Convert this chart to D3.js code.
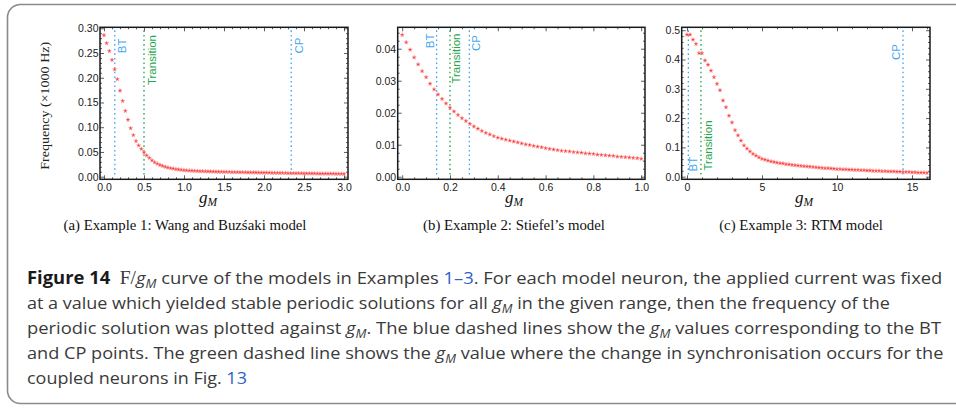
<!DOCTYPE html>
<html>
<head>
<meta charset="utf-8">
<script src="https://cdn.jsdelivr.net/npm/d3@7"></script>
<style>
  body { margin: 0; background: #fff; }
  .tick text { font-family: "Liberation Sans", Arial, sans-serif; font-size: 10.5px; fill: #222; }
</style>
</head>
<body>
<svg id="fig" width="956" height="409"></svg>
<script>
// ---------- Example 1: Wang and Buzsaki model (gM sampled every 1/30) ----------
const gmA = d3.range(91).map(i => i / 30);
const freqA = [
  0.286, 0.270, 0.254, 0.236, 0.217, 0.197, 0.174, 0.153, 0.133, 0.115,
  0.098, 0.084, 0.072, 0.063, 0.056, 0.049, 0.043, 0.038, 0.033, 0.029,
  0.026, 0.0235, 0.0215, 0.0198, 0.0184, 0.0172, 0.0162, 0.0153, 0.0144, 0.0137,
  0.0131, 0.0127, 0.0123, 0.0120, 0.0117, 0.0114, 0.0112, 0.0110, 0.0108, 0.0106,
  0.0104, 0.0102, 0.0101, 0.0099, 0.0098, 0.0096, 0.0095, 0.0094, 0.0093, 0.0092,
  0.0091, 0.0090, 0.0089, 0.0088, 0.0087, 0.0086, 0.0085, 0.0084, 0.0083, 0.0082,
  0.0081, 0.0080, 0.0079, 0.0078, 0.0077, 0.0076, 0.0075, 0.0074, 0.0073, 0.0072,
  0.0071, 0.0070, 0.0069, 0.0069, 0.0068, 0.0067, 0.0066, 0.0065, 0.0065, 0.0064,
  0.0063, 0.0062, 0.0062, 0.0061, 0.0060, 0.0060, 0.0059, 0.0058, 0.0058, 0.0057,
  0.0056
];
const xTicksA = [0, 0.5, 1, 1.5, 2, 2.5, 3];
const yTicksA = [0, 0.05, 0.10, 0.15, 0.20, 0.25, 0.30];
const marksA = [
  { name: "BT", gm: 0.135, kind: "bif" },
  { name: "Transition", gm: 0.5, kind: "sync" },
  { name: "CP", gm: 2.34, kind: "bif" }
];

// ---------- Example 2: Stiefel's model (gM sampled every 1/60) ----------
const gmB = d3.range(61).map(i => i / 60);
const freqB = [
  0.0443, 0.0420, 0.0397, 0.0373, 0.0351, 0.0330, 0.0311, 0.0291, 0.0273, 0.0257,
  0.0243, 0.0229, 0.0216, 0.0204, 0.0193, 0.0183, 0.0174, 0.0165, 0.0157, 0.0150,
  0.0143, 0.0137, 0.0132, 0.0127, 0.0122, 0.0119, 0.0116, 0.0113, 0.0110, 0.0107,
  0.0104, 0.0101, 0.0099, 0.0096, 0.0094, 0.0092, 0.0089, 0.0087, 0.0085, 0.0083,
  0.0081, 0.0080, 0.0079, 0.0077, 0.0076, 0.0075, 0.0073, 0.0072, 0.0071, 0.0069,
  0.0068, 0.0067, 0.0066, 0.0065, 0.0063, 0.0062, 0.0061, 0.0060, 0.0059, 0.0058,
  0.0056
];
const xTicksB = [0, 0.2, 0.4, 0.6, 0.8, 1.0];
const yTicksB = [0, 0.01, 0.02, 0.03, 0.04];
const marksB = [
  { name: "BT", gm: 0.144, kind: "bif" },
  { name: "Transition", gm: 0.2, kind: "sync" },
  { name: "CP", gm: 0.281, kind: "bif" }
];

// ---------- Example 3: RTM model (gM sampled every 0.2) ----------
const gmC = d3.range(81).map(i => i * 0.2);
const freqC = [
  0.485, 0.485, 0.468, 0.453, 0.422, 0.422, 0.397, 0.382, 0.362, 0.340,
  0.317, 0.295, 0.260, 0.237, 0.208, 0.185, 0.159, 0.141, 0.123, 0.107,
  0.096, 0.086, 0.078, 0.072, 0.066, 0.061, 0.058, 0.055, 0.052, 0.050,
  0.048, 0.046, 0.045, 0.043, 0.042, 0.040, 0.039, 0.038, 0.037, 0.036,
  0.035, 0.034, 0.033, 0.032, 0.031, 0.030, 0.029, 0.029, 0.028, 0.027,
  0.026, 0.026, 0.025, 0.025, 0.024, 0.024, 0.023, 0.023, 0.022, 0.022,
  0.021, 0.021, 0.020, 0.020, 0.020, 0.019, 0.019, 0.018, 0.018, 0.018,
  0.017, 0.017, 0.016, 0.016, 0.016, 0.015, 0.015, 0.014, 0.014, 0.014,
  0.013
];
const xTicksC = [0, 5, 10, 15];
const yTicksC = [0, 0.1, 0.2, 0.3, 0.4, 0.5];
const marksC = [
  { name: "BT", gm: 0.09, kind: "bif" },
  { name: "Transition", gm: 0.93, kind: "sync" },
  { name: "CP", gm: 14.4, kind: "bif" }
];

const subCaptions = [
  "(a) Example 1: Wang and Buzśaki model",
  "(b) Example 2: Stiefel’s model",
  "(c) Example 3: RTM model"
];

// ---------- styling / layout ----------
const BLUE = "#43a6f0", GREEN = "#1fa84e", RED = "#f22c2c";
const svg = d3.select("#fig");

// rounded figure box (its right side runs past the page edge)
svg.append("rect")
  .attr("x", 7.5).attr("y", 4.5).attr("width", 1000).attr("height", 399)
  .attr("rx", 13).attr("ry", 13)
  .attr("fill", "none").attr("stroke", "#8a8a8a").attr("stroke-width", 1.6);

const panels = [
  { gm: gmA, freq: freqA, xTicks: xTicksA, yTicks: yTicksA, marks: marksA,
    box: [100, 27.3, 348, 179.3], xDom: [-0.05, 3.05], yDom: [-0.0053, 0.302],
    xMinor: 0.1, yMinor: 0.01, xFmt: ".1f", yFmt: ".2f",
    labelPos: [{ dx: 10.8, y: 38.5, anchor: "end" }, { dx: 11.5, y: 35, anchor: "end" }, { dx: 11.8, y: 37.5, anchor: "end" }],
    gX: 199, cap: 0, capC: 185 },
  { gm: gmB, freq: freqB, xTicks: xTicksB, yTicks: yTicksB, marks: marksB,
    box: [397.7, 27.3, 645, 179.3], xDom: [-0.0188, 1.0159], yDom: [-0.0008, 0.04669],
    xMinor: 0.05, yMinor: 0.0025, xFmt: ".1f", yFmt: ".2f",
    labelPos: [{ dx: -2.8, y: 33.5, anchor: "end" }, { dx: 9.8, y: 33.5, anchor: "end" }, { dx: 10.5, y: 35, anchor: "end" }],
    gX: 505, cap: 1, capC: 514 },
  { gm: gmC, freq: freqC, xTicks: xTicksC, yTicks: yTicksC, marks: marksC,
    box: [681.7, 27.3, 930, 179.3], xDom: [-0.353, 16.2], yDom: [-0.0089, 0.51],
    xMinor: 1, yMinor: 0.02, xFmt: "d", yFmt: ".1f",
    labelPos: [{ dx: 9, y: 171.5, anchor: "start" }, { dx: 11, y: 170.5, anchor: "start" }, { dx: -2.8, y: 44, anchor: "end" }],
    gX: 795, cap: 2, capC: 801 }
];

function minorTicks(dom, step, majors) {
  const lo = Math.ceil(dom[0] / step - 1e-9), hi = Math.floor(dom[1] / step + 1e-9);
  const out = [];
  for (let k = lo; k <= hi; k++) {
    const v = +(k * step).toFixed(6);
    if (!majors.some(m => Math.abs(m - v) < step / 10)) out.push(v);
  }
  return out;
}

const styleAxis = sel => {
  sel.select(".domain").remove();
  sel.selectAll(".tick line").attr("stroke", "#333").attr("stroke-width", 0.8);
};
const bareAxis = sel => { styleAxis(sel); sel.selectAll(".tick text").remove(); };

panels.forEach(p => {
  const [x0, y0, x1, y1] = p.box;
  const x = d3.scaleLinear().domain(p.xDom).range([x0, x1]);
  const y = d3.scaleLinear().domain(p.yDom).range([y1, y0]);
  const g = svg.append("g");

  const xMin = minorTicks(p.xDom, p.xMinor, p.xTicks);
  const yMin = minorTicks(p.yDom, p.yMinor, p.yTicks);

  // labelled axes (ticks point inwards)
  g.append("g").attr("transform", `translate(0,${y1})`)
    .call(d3.axisBottom(x).tickValues(p.xTicks).tickFormat(d3.format(p.xFmt)).tickSize(-4).tickPadding(4))
    .call(styleAxis);
  g.append("g").attr("transform", `translate(${x0},0)`)
    .call(d3.axisLeft(y).tickValues(p.yTicks).tickFormat(d3.format(p.yFmt)).tickSize(-4).tickPadding(1.5))
    .call(styleAxis);
  g.append("g").attr("transform", `translate(0,${y0})`)
    .call(d3.axisTop(x).tickValues(p.xTicks).tickSize(-4)).call(bareAxis);
  g.append("g").attr("transform", `translate(${x1},0)`)
    .call(d3.axisRight(y).tickValues(p.yTicks).tickSize(-4)).call(bareAxis);
  // minor ticks
  g.append("g").attr("transform", `translate(0,${y1})`)
    .call(d3.axisBottom(x).tickValues(xMin).tickSize(-2)).call(bareAxis);
  g.append("g").attr("transform", `translate(0,${y0})`)
    .call(d3.axisTop(x).tickValues(xMin).tickSize(-2)).call(bareAxis);
  g.append("g").attr("transform", `translate(${x0},0)`)
    .call(d3.axisLeft(y).tickValues(yMin).tickSize(-2)).call(bareAxis);
  g.append("g").attr("transform", `translate(${x1},0)`)
    .call(d3.axisRight(y).tickValues(yMin).tickSize(-2)).call(bareAxis);

  // bifurcation / synchronisation markers
  p.marks.forEach((m, i) => {
    const col = m.kind === "bif" ? BLUE : GREEN;
    const xm = x(m.gm);
    g.append("line")
      .attr("x1", xm).attr("x2", xm).attr("y1", y0 + 3).attr("y2", y(0) - 0.5)
      .attr("stroke", col).attr("stroke-width", 1.3).attr("stroke-dasharray", "1.6,3");
    const lp = p.labelPos[i];
    g.append("text")
      .attr("transform", `translate(${xm + lp.dx},${lp.y}) rotate(-90)`)
      .attr("text-anchor", lp.anchor)
      .attr("font-family", "Liberation Sans, Arial, sans-serif")
      .attr("font-size", 11.5).attr("fill", col)
      .text(m.name);
  });

  // frequency points
  const star = d3.symbol().type(d3.symbolStar).size(5.5);
  g.append("g").selectAll("path").data(p.gm.map((v, i) => [v, p.freq[i]]))
    .join("path")
    .attr("transform", d => `translate(${x(d[0])},${y(d[1])})`)
    .attr("d", star)
    .attr("fill", RED).attr("stroke", "#ff9a9a").attr("stroke-width", 0.5);

  // frame
  g.append("rect").attr("x", x0).attr("y", y0).attr("width", x1 - x0).attr("height", y1 - y0)
    .attr("fill", "none").attr("stroke", "#1a1a1a").attr("stroke-width", 1.5);

  // gM axis label
  const gl = svg.append("text").attr("x", p.gX).attr("y", 203)
    .attr("font-family", "Liberation Serif, Times New Roman, serif").attr("font-style", "italic")
    .attr("font-size", 17).attr("fill", "#111");
  gl.append("tspan").text("g");
  gl.append("tspan").attr("font-size", 11.5).attr("dy", 3).text("M");

  // sub-figure caption
  svg.append("text").attr("transform", `translate(${p.capC},229.5) scale(1.06,1)`)
    .attr("text-anchor", "middle")
    .attr("font-family", "Liberation Serif, Times New Roman, serif")
    .attr("font-size", 14).attr("fill", "#111")
    .text(subCaptions[p.cap]);
});

// y axis title of the first panel
svg.append("text")
  .attr("transform", "translate(48.5,105.8) rotate(-90)")
  .attr("text-anchor", "middle")
  .attr("textLength", 128).attr("lengthAdjust", "spacingAndGlyphs")
  .attr("font-family", "Liberation Serif, Times New Roman, serif")
  .attr("font-size", 12.5).attr("fill", "#222")
  .text("Frequency (\u00d71000 Hz)");

// ---------- figure caption ----------
const capLines = [
  { w: 916, segs: [["b", "Figure 14"], ["n", "  "], ["s", "F/"], ["g"], ["n", " curve of the models in Examples "], ["l", "1–3"], ["n", ". For each model neuron, the applied current was fixed"]] },
  { w: 863, segs: [["n", "at a value which yielded stable periodic solutions for all "], ["g"], ["n", " in the given range, then the frequency of the"]] },
  { w: 914, segs: [["n", "periodic solution was plotted against "], ["g"], ["n", ". The blue dashed lines show the "], ["g"], ["n", " values corresponding to the BT"]] },
  { w: 917, segs: [["n", "and CP points. The green dashed line shows the "], ["g"], ["n", " value where the change in synchronisation occurs for the"]] },
  { w: 220, segs: [["n", "coupled neurons in Fig. "], ["l", "13"]] }
];
const capX = 27, capY0 = 283.5, capDY = 25;
capLines.forEach((ln, i) => {
  const t = svg.append("text").attr("x", 0).attr("y", 0)
    .attr("font-family", "Open Sans, Noto Sans, sans-serif")
    .attr("font-size", 17).attr("fill", "#3a3a3a")
    .attr("xml:space", "preserve").style("white-space", "pre");
  let shift = 0; // pending baseline correction after a subscript
  ln.segs.forEach(s => {
    let ts;
    if (s[0] === "g") {
      ts = t.append("tspan").attr("font-style", "italic").text("g");
      if (shift) ts.attr("dy", shift);
      t.append("tspan").attr("font-style", "italic").attr("font-size", 12).attr("dy", 4).text("M");
      shift = -4;
      return;
    }
    ts = t.append("tspan").text(s[1]);
    if (s[0] === "b") ts.attr("font-weight", "bold").attr("fill", "#1a1a1a");
    else if (s[0] === "s") ts.attr("font-family", "Liberation Serif, serif").attr("font-size", 18);
    else if (s[0] === "l") ts.attr("fill", "#2f5fc8");
    if (shift) { ts.attr("dy", shift); shift = 0; }
  });
  const natural = t.node().getComputedTextLength();
  t.attr("transform", `translate(${capX},${capY0 + i * capDY}) scale(${ln.w / natural},1)`);
});
</script>
</body>
</html>
